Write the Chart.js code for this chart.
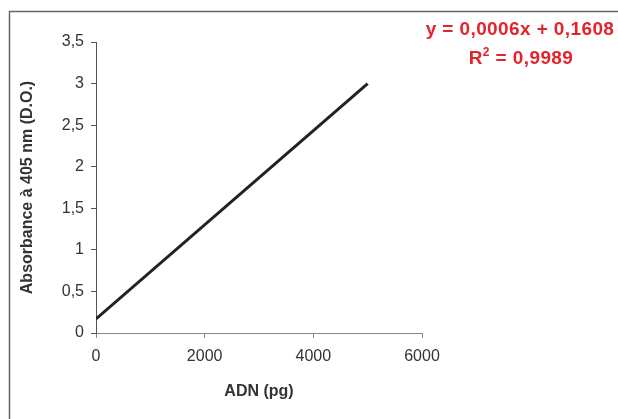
<!DOCTYPE html>
<html>
<head>
<meta charset="utf-8">
<script src="https://cdn.jsdelivr.net/npm/chart.js@4.4.0/dist/chart.umd.min.js"></script>
<style>
html,body{margin:0;padding:0;background:#fff;}
canvas{display:block;}
</style>
</head>
<body>
<canvas id="c" width="618" height="419"></canvas>
<script>
const dnaPg = [0, 5000];
const absorbance = [0.17, 3.0];
const xTicks = [0, 2000, 4000, 6000];
const yTicks = [0, 0.5, 1, 1.5, 2, 2.5, 3, 3.5];
const equationText = 'y = 0,0006x + 0,1608';
const r2Label = ['R', '2', ' = 0,9989'];
const xTitle = 'ADN (pg)';
const yTitle = 'Absorbance \u00E0 405 nm (D.O.)';

const FONT = '"Liberation Sans", Arial, sans-serif';

const decor = {
  id: 'decor',
  afterDraw(chart) {
    const ctx = chart.ctx;
    ctx.save();
    ctx.strokeStyle = '#666';
    ctx.lineWidth = 1.5;
    ctx.strokeRect(9.5, 11.5, 800, 800);
    ctx.fillStyle = '#e4232b';
    ctx.textBaseline = 'alphabetic';
    ctx.font = 'bold 19px ' + FONT;
    ctx.textAlign = 'center';
    if ('letterSpacing' in ctx) ctx.letterSpacing = '0.4px';
    ctx.fillText(equationText, 520, 35);
    // R² line, centered at 521
    const big = 'bold 19px ' + FONT, small = 'bold 12px ' + FONT;
    ctx.textAlign = 'left';
    ctx.font = big; const wR = ctx.measureText(r2Label[0]).width;
    ctx.font = small; const w2 = ctx.measureText(r2Label[1]).width;
    ctx.font = big; const wRest = ctx.measureText(r2Label[2]).width;
    let x = 521 - (wR + w2 + wRest) / 2;
    ctx.fillText(r2Label[0], x, 64); x += wR;
    ctx.font = small; ctx.fillText(r2Label[1], x, 56); x += w2;
    ctx.font = big; ctx.fillText(r2Label[2], x, 64);
    ctx.restore();
  }
};

new Chart(document.getElementById('c'), {
  type: 'scatter',
  data: {
    datasets: [{
      data: dnaPg.map((x, i) => ({x: x, y: absorbance[i]})),
      showLine: true,
      borderColor: '#222',
      borderWidth: 3,
      pointRadius: 0,
      fill: false
    }]
  },
  options: {
    responsive: false,
    animation: false,
    devicePixelRatio: 1,
    layout: {padding: {left: 10, top: 42, right: 196, bottom: 0}},
    plugins: {legend: {display: false}, tooltip: {enabled: false}},
    scales: {
      x: {
        type: 'linear', min: 0, max: 6000,
        afterBuildTicks(s) { s.ticks = xTicks.map(v => ({value: v})); },
        afterFit(s) { s.height = 86; },
        ticks: {font: {family: FONT, size: 16}, color: '#333', padding: 9, maxRotation: 0,
          callback: v => String(v)},
        grid: {display: true, drawOnChartArea: false, drawTicks: true, tickLength: 5, color: '#888'},
        border: {display: true, color: '#888', width: 1},
        title: {display: true, text: xTitle, font: {family: FONT, size: 16, weight: 'bold'}, color: '#333', padding: {top: 4, bottom: 18}}
      },
      y: {
        type: 'linear', min: 0, max: 3.5,
        afterBuildTicks(s) { s.ticks = yTicks.map(v => ({value: v})); },
        afterFit(s) { s.width = 86; },
        ticks: {font: {family: FONT, size: 16}, color: '#333', padding: 7,
          callback: v => String(v).replace('.', ',')},
        grid: {display: true, drawOnChartArea: false, drawTicks: true, tickLength: 5, color: '#555'},
        border: {display: true, color: '#555', width: 1},
        title: {display: true, text: yTitle, font: {family: FONT, size: 16, weight: 'bold'}, color: '#333', padding: {top: 8, bottom: 4}}
      }
    }
  },
  plugins: [decor]
});
</script>
</body>
</html>
